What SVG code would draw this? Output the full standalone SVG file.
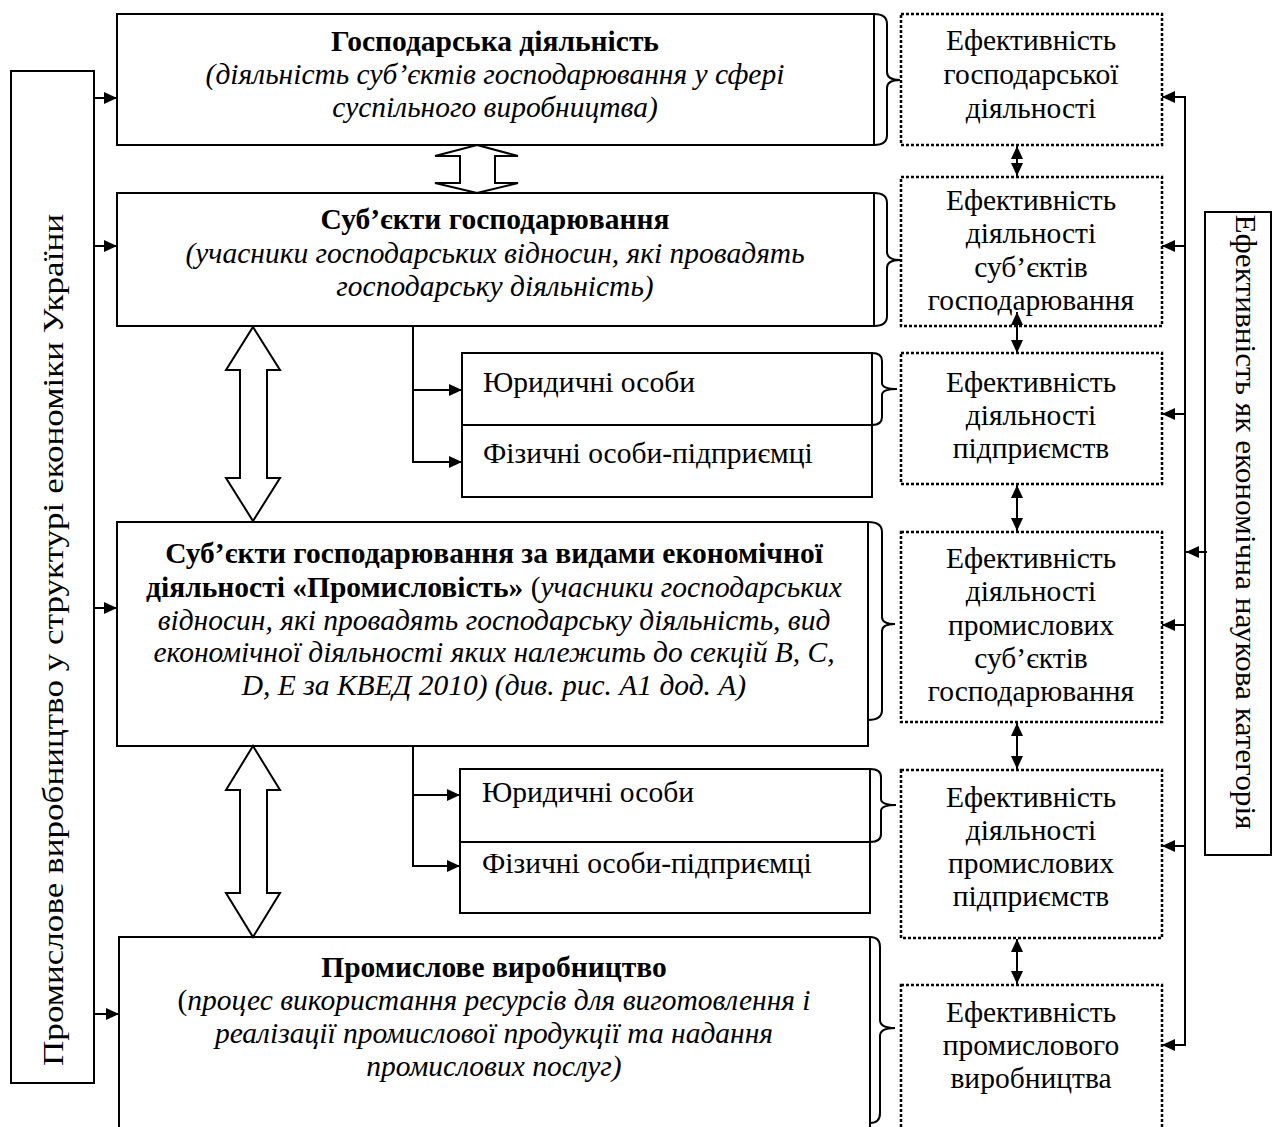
<svg xmlns="http://www.w3.org/2000/svg" width="1273" height="1127" viewBox="0 0 1273 1127" font-family="'Liberation Serif', 'Times New Roman', Tinos, 'DejaVu Serif', serif">
<style>
text{font-family:'Liberation Serif','Times New Roman',Tinos,'DejaVu Serif',serif;font-size:29.5px;fill:#000}
.c{text-anchor:middle}
.b{font-weight:bold}
.i{font-style:italic}
.box{fill:#fff;stroke:#000;stroke-width:2}
.dbox{fill:#fff;stroke:#000;stroke-width:2.5;stroke-dasharray:3 2}
.ln{fill:none;stroke:#000;stroke-width:2}
.hol{fill:#fff;stroke:#000;stroke-width:2}
.br{fill:none;stroke:#000;stroke-width:2}
</style>
<defs>
<marker id="ah" markerUnits="userSpaceOnUse" markerWidth="14" markerHeight="12" refX="13" refY="6" orient="auto-start-reverse">
<path d="M0,0 L13,6 L0,12 z" fill="#000"/>
</marker>
</defs>
<rect width="1273" height="1127" fill="#fff"/>

<g id="left-box">
<rect class="box" x="11" y="71" width="83" height="1012"/>
<text class="c" transform="translate(63,640) rotate(-90)" textLength="852" lengthAdjust="spacingAndGlyphs">Промислове виробництво у структурі економіки України</text>
</g>

<g id="right-box">
<rect class="box" x="1205" y="212" width="66" height="643"/>
<text class="c" transform="translate(1236,522) rotate(90)" textLength="615" lengthAdjust="spacingAndGlyphs">Ефективність як економічна  наукова категорія</text>
</g>

<g id="n1">
<rect class="box" x="117" y="14" width="757" height="131"/>
<text class="c b" x="495" y="51">Господарська діяльність</text>
<text class="c i" x="495" y="84">(діяльність суб’єктів господарювання у сфері</text>
<text class="c i" x="495" y="117">суспільного виробництва)</text>
</g>

<g id="n2">
<rect class="box" x="117" y="193" width="757" height="133"/>
<text class="c b" x="495" y="229">Суб’єкти господарювання</text>
<text class="c i" x="495" y="263">(учасники господарських відносин, які провадять</text>
<text class="c i" x="495" y="296">господарську діяльність)</text>
</g>

<g id="n2a">
<rect class="box" x="462" y="353" width="410" height="72"/>
<text x="483" y="392">Юридичні особи</text>
</g>
<g id="n2b">
<rect class="box" x="462" y="425" width="410" height="72"/>
<text x="483" y="463">Фізичні особи-підприємці</text>
</g>

<g id="n3">
<rect class="box" x="117" y="522" width="751" height="224"/>
<text class="c b" x="494" y="563">Суб’єкти господарювання за видами економічної</text>
<text class="c" x="494" y="597"><tspan class="b">діяльності «Промисловість»</tspan> (<tspan class="i">учасники господарських</tspan></text>
<text class="c i" x="494" y="630">відносин, які провадять господарську діяльність, вид</text>
<text class="c i" x="494" y="662">економічної діяльності яких належить до секцій B, C,</text>
<text class="c i" x="494" y="695">D, E за КВЕД 2010) (див. рис. А1 дод. А)</text>
</g>

<g id="n3a">
<rect class="box" x="460" y="769" width="410" height="73"/>
<text x="482" y="802">Юридичні особи</text>
</g>
<g id="n3b">
<rect class="box" x="460" y="842" width="410" height="71"/>
<text x="482" y="873">Фізичні особи-підприємці</text>
</g>

<g id="n4">
<rect class="box" x="119" y="937" width="751" height="210"/>
<text class="c b" x="494" y="977">Промислове виробництво</text>
<text class="c" x="494" y="1010">(<tspan class="i">процес використання ресурсів для виготовлення і</tspan></text>
<text class="c i" x="494" y="1043">реалізації промислової продукції та надання</text>
<text class="c i" x="494" y="1076">промислових послуг)</text>
</g>

<g id="e1">
<rect class="dbox" x="901" y="14" width="261" height="131"/>
<text class="c" x="1031" y="50">Ефективність</text>
<text class="c" x="1031" y="84">господарської</text>
<text class="c" x="1031" y="118">діяльності</text>
</g>
<g id="e2">
<rect class="dbox" x="901" y="177" width="261" height="149"/>
<text class="c" x="1031" y="210">Ефективність</text>
<text class="c" x="1031" y="243">діяльності</text>
<text class="c" x="1031" y="277">суб’єктів</text>
<text class="c" x="1031" y="310">господарювання</text>
</g>
<g id="e3">
<rect class="dbox" x="901" y="353" width="261" height="131"/>
<text class="c" x="1031" y="392">Ефективність</text>
<text class="c" x="1031" y="425">діяльності</text>
<text class="c" x="1031" y="458">підприємств</text>
</g>
<g id="e4">
<rect class="dbox" x="901" y="532" width="261" height="190"/>
<text class="c" x="1031" y="568">Ефективність</text>
<text class="c" x="1031" y="601">діяльності</text>
<text class="c" x="1031" y="635">промислових</text>
<text class="c" x="1031" y="668">суб’єктів</text>
<text class="c" x="1031" y="701">господарювання</text>
</g>
<g id="e5">
<rect class="dbox" x="901" y="770" width="261" height="168"/>
<text class="c" x="1031" y="807">Ефективність</text>
<text class="c" x="1031" y="840">діяльності</text>
<text class="c" x="1031" y="873">промислових</text>
<text class="c" x="1031" y="906">підприємств</text>
</g>
<g id="e6">
<rect class="dbox" x="901" y="985" width="261" height="170"/>
<text class="c" x="1031" y="1022">Ефективність</text>
<text class="c" x="1031" y="1055">промислового</text>
<text class="c" x="1031" y="1088">виробництва</text>
</g>

<g id="connectors">
<line class="ln" x1="94" y1="98" x2="117" y2="98" marker-end="url(#ah)"/>
<line class="ln" x1="94" y1="246" x2="117" y2="246" marker-end="url(#ah)"/>
<line class="ln" x1="94" y1="608" x2="117" y2="608" marker-end="url(#ah)"/>
<line class="ln" x1="94" y1="1014" x2="119" y2="1014" marker-end="url(#ah)"/>
<path class="ln" d="M413,326 V462"/>
<line class="ln" x1="412" y1="390" x2="462" y2="390" marker-end="url(#ah)"/>
<line class="ln" x1="412" y1="462" x2="462" y2="462" marker-end="url(#ah)"/>
<path class="ln" d="M413,746 V866"/>
<line class="ln" x1="412" y1="795" x2="460" y2="795" marker-end="url(#ah)"/>
<line class="ln" x1="412" y1="866" x2="460" y2="866" marker-end="url(#ah)"/>
<path class="hol" d="M477,145 L518,156 L495,156 L495,183 L518,183 L477,193 L435,183 L460,183 L460,156 L435,156 Z"/>
<path class="hol" d="M253,327 L280,370 L267,370 L267,478 L280,478 L253,521 L226,478 L240,478 L240,370 L226,370 Z"/>
<path class="hol" d="M253,746 L280,790 L267,790 L267,893 L280,893 L253,937 L226,893 L240,893 L240,790 L226,790 Z"/>
<path class="br" d="M874,14 Q887,14 887,24 L887,72 Q887,80 900,80 Q887,80 887,88 L887,135 Q887,145 874,145"/>
<path class="br" d="M874,193 Q887,193 887,203 L887,252 Q887,260 900,260 Q887,260 887,268 L887,316 Q887,326 874,326"/>
<path class="br" d="M872,353 Q882,353 882,361 L882,383 Q882,389 897,389 Q882,389 882,395 L882,417 Q882,425 872,425"/>
<path class="br" d="M868,522 Q882,522 882,532 L882,617 Q882,624 895,624 Q882,624 882,631 L882,710 Q882,720 868,720"/>
<path class="br" d="M870,769 Q881,769 881,777 L881,799 Q881,805 896,805 Q881,805 881,811 L881,834 Q881,842 870,842"/>
<path class="br" d="M870,937 Q880,937 880,947 L880,1020 Q880,1028 895,1028 Q880,1028 880,1036 L880,1113 Q880,1123 870,1123"/>
<line class="ln" x1="1017" y1="146" x2="1017" y2="176" marker-start="url(#ah)" marker-end="url(#ah)"/>
<line class="ln" x1="1017" y1="312" x2="1017" y2="353" marker-start="url(#ah)" marker-end="url(#ah)"/>
<line class="ln" x1="1017" y1="485" x2="1017" y2="531" marker-start="url(#ah)" marker-end="url(#ah)"/>
<line class="ln" x1="1017" y1="723" x2="1017" y2="769" marker-start="url(#ah)" marker-end="url(#ah)"/>
<line class="ln" x1="1017" y1="939" x2="1017" y2="984" marker-start="url(#ah)" marker-end="url(#ah)"/>
<path class="ln" d="M1185,97 V1045"/>
<line class="ln" x1="1186" y1="97" x2="1162" y2="97" marker-end="url(#ah)"/>
<line class="ln" x1="1186" y1="246" x2="1162" y2="246" marker-end="url(#ah)"/>
<line class="ln" x1="1186" y1="414" x2="1162" y2="414" marker-end="url(#ah)"/>
<line class="ln" x1="1186" y1="625" x2="1162" y2="625" marker-end="url(#ah)"/>
<line class="ln" x1="1186" y1="846" x2="1162" y2="846" marker-end="url(#ah)"/>
<line class="ln" x1="1186" y1="1045" x2="1162" y2="1045" marker-end="url(#ah)"/>
<line class="ln" x1="1207" y1="552" x2="1186" y2="552" marker-end="url(#ah)"/>
</g>
</svg>
